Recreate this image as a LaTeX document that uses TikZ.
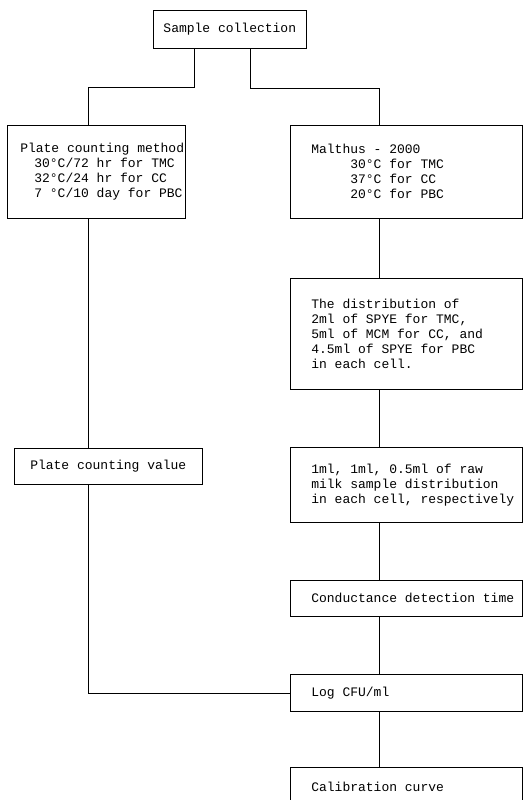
\documentclass[tikz,border=0pt]{standalone}
\usepackage{fontspec}
\setmonofont{Liberation Mono}
\usepackage{tikz}
\usetikzlibrary{positioning}

\begin{document}
\begin{tikzpicture}[x=1pt,y=-1pt,line width=0.6pt,
        stage/.style={draw, rectangle, inner xsep=0pt, inner ysep=0pt, align=left, font=\ttfamily\fontsize{13pt}{15pt}\selectfont},
        indent/.style={execute at begin node={\leftskip=#1\spaceskip=0pt\xspaceskip=0pt}}]
        \tikzstyle{rightstage} = [stage, text width=232pt, indent=21pt]
        \useasboundingbox (0,0) rectangle (530,800);
        \node[stage, anchor=north west, minimum width=153pt, minimum height=38pt, align=center] (sample) at (153,10) {Sample collection};
        \node[stage, anchor=north west, text width=178pt, minimum height=93pt, indent=13pt] (plate) at (7,125) {Plate counting method\\ \hspace*{14pt}30°C/72 hr for TMC\\ \hspace*{14pt}32°C/24 hr for CC\\ \hspace*{14pt}7 °C/10 day for PBC};
        \node[stage, minimum width=188pt, minimum height=36pt, align=center, below=229pt of plate.south west, anchor=north west, xshift=7pt] (value) {Plate counting value};
        \node[rightstage, anchor=north west, minimum height=93pt] (malthus) at (290,125) {Malthus - 2000\\ \hspace*{39pt}30°C for TMC\\ \hspace*{39pt}37°C for CC\\ \hspace*{39pt}20°C for PBC};
        \node[rightstage, minimum height=111pt, below=59pt of malthus] (dist) {The distribution of\\ 2ml of SPYE for TMC,\\ 5ml of MCM for CC, and\\ 4.5ml of SPYE for PBC\\ in each cell.};
        \node[rightstage, minimum height=75pt, below=58pt of dist] (raw) {1ml, 1ml, 0.5ml of raw\\ milk sample distribution\\ in each cell, respectively};
        \node[rightstage, minimum height=36pt, below=57pt of raw] (cond) {Conductance detection time};
        \node[rightstage, minimum height=37pt, below=58pt of cond] (logcfu) {Log CFU/ml};
        \node[rightstage, minimum height=40pt, below=55pt of logcfu] (calib) {Calibration curve};

        \coordinate (lbend) at (88,87);
        \coordinate (rbend) at (379,88);
        \draw ([xshift=-35.5pt]sample.south) |- (lbend) -- (plate.north -| lbend);
        \draw ([xshift=20.5pt]sample.south) |- (rbend) -- (malthus.north -| rbend);
        \draw (plate.south -| lbend) -- (value.north -| lbend);
        \draw (value.south -| lbend) |- (logcfu.west);
        \draw (malthus.south -| rbend) -- (dist.north -| rbend);
        \draw (dist.south -| rbend) -- (raw.north -| rbend);
        \draw (raw.south -| rbend) -- (cond.north -| rbend);
        \draw (cond.south -| rbend) -- (logcfu.north -| rbend);
        \draw (logcfu.south -| rbend) -- (calib.north -| rbend);
\end{tikzpicture}
\end{document}
